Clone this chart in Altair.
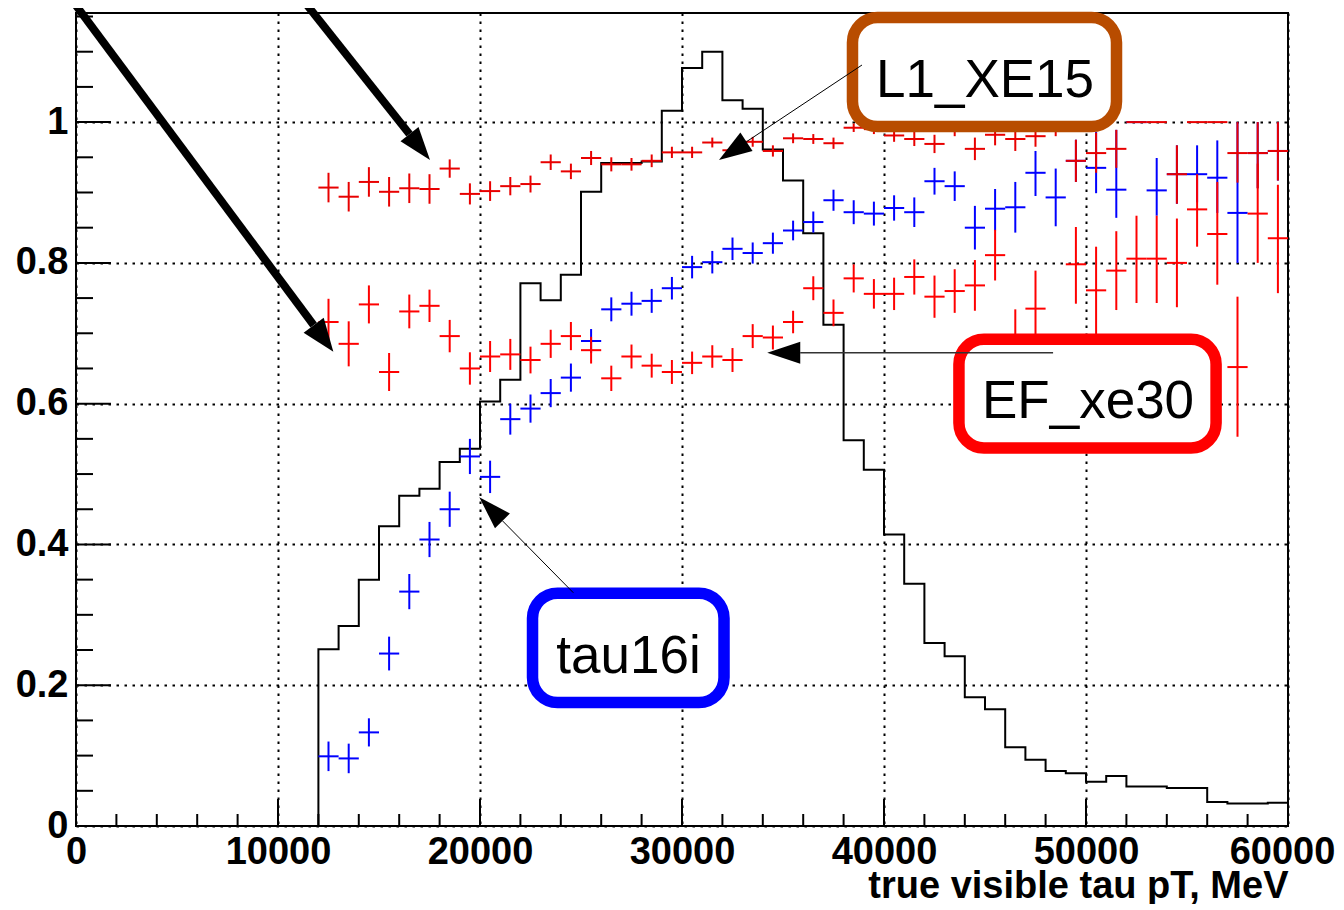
import math
import altair as alt
import pandas as pd

# ---------------- geometry of the plot area ----------------
W, H = 1212, 813
X_MAX, Y_MAX = 60000, 1.155

# ---------------- data ----------------
bin_width = 1000
hist_first_edge = 12000
hist_values = [0.251, 0.284, 0.350, 0.426, 0.469, 0.479, 0.517, 0.536, 0.603, 0.634,
               0.771, 0.747, 0.783, 0.901, 0.942, 0.942, 0.944, 1.016, 1.077, 1.100,
               1.031, 1.019, 0.961, 0.917, 0.842, 0.712, 0.548, 0.506, 0.414, 0.344,
               0.260, 0.241, 0.183, 0.166, 0.112, 0.094, 0.078, 0.075, 0.063, 0.071,
               0.056, 0.056, 0.054, 0.054, 0.034, 0.032, 0.032, 0.033]

bin_centers = [hist_first_edge + bin_width // 2 + bin_width * i for i in range(48)]

tau16i = [0.099, 0.096, 0.133, 0.245, 0.333, 0.407, 0.450, 0.525, 0.496, 0.578,
          0.593, 0.615, 0.637, 0.689, 0.734, 0.742, 0.746, 0.764, 0.794, 0.801,
          0.820, 0.814, 0.828, 0.846, 0.858, 0.889, 0.872, 0.870, 0.878, 0.872,
          0.916, 0.909, 0.850, 0.877, 0.879, 0.928, 0.893, 0.945, 0.935, 0.904,
          1.000, 0.903, 0.926, 0.926, 0.921, 0.871, 0.956, 0.959]
tau16i_err_hi = [0.021, 0.021, 0.020, 0.024, 0.025, 0.025, 0.025, 0.025, 0.023, 0.022,
                 0.020, 0.020, 0.020, 0.017, 0.017, 0.017, 0.017, 0.016, 0.016, 0.016,
                 0.016, 0.015, 0.015, 0.014, 0.015, 0.015, 0.017, 0.017, 0.018, 0.021,
                 0.019, 0.021, 0.031, 0.028, 0.036, 0.031, 0.041, 0.030, 0.051, 0.085,
                 0.000, 0.046, 0.041, 0.041, 0.053, 0.129, 0.044, 0.041]
tau16i_err_lo = [0.021, 0.021, 0.020, 0.024, 0.025, 0.025, 0.025, 0.025, 0.023, 0.022,
                 0.020, 0.020, 0.020, 0.017, 0.017, 0.017, 0.017, 0.016, 0.016, 0.016,
                 0.016, 0.015, 0.015, 0.014, 0.015, 0.015, 0.017, 0.017, 0.018, 0.021,
                 0.019, 0.021, 0.031, 0.031, 0.036, 0.033, 0.041, 0.030, 0.036, 0.040,
                 0.000, 0.036, 0.042, 0.040, 0.050, 0.071, 0.050, 0.042]

l1_xe15 = [0.907, 0.894, 0.915, 0.901, 0.906, 0.905, 0.934, 0.898, 0.902, 0.909,
           0.912, 0.943, 0.930, 0.949, 0.940, 0.940, 0.945, 0.957, 0.957, 0.971,
           0.960, 0.972, 0.959, 0.977, 0.976, 0.970, 0.992, 0.990, 0.981, 0.976,
           0.969, 0.990, 0.962, 0.982, 0.976, 0.980, 0.990, 0.945, 0.956, 0.962,
           1.000, 1.000, 0.926, 1.000, 1.000, 0.956, 0.956, 0.959]
l1_err_hi = [0.021, 0.021, 0.021, 0.021, 0.021, 0.021, 0.013, 0.015, 0.014, 0.013,
             0.012, 0.011, 0.011, 0.010, 0.010, 0.009, 0.009, 0.008, 0.008, 0.007,
             0.008, 0.007, 0.008, 0.007, 0.007, 0.008, 0.006, 0.007, 0.009, 0.010,
             0.013, 0.010, 0.016, 0.015, 0.017, 0.015, 0.010, 0.030, 0.029, 0.027,
             0.000, 0.000, 0.041, 0.000, 0.000, 0.044, 0.044, 0.041]
l1_err_lo = [0.021, 0.021, 0.021, 0.021, 0.021, 0.021, 0.013, 0.015, 0.014, 0.013,
             0.012, 0.011, 0.011, 0.010, 0.010, 0.009, 0.009, 0.008, 0.008, 0.007,
             0.008, 0.007, 0.008, 0.007, 0.007, 0.008, 0.006, 0.007, 0.009, 0.010,
             0.013, 0.010, 0.016, 0.015, 0.017, 0.015, 0.010, 0.030, 0.028, 0.027,
             0.000, 0.000, 0.042, 0.000, 0.000, 0.042, 0.050, 0.042]

ef_xe30 = [0.716, 0.685, 0.741, 0.645, 0.731, 0.739, 0.696, 0.650, 0.667, 0.670,
           0.662, 0.685, 0.696, 0.676, 0.636, 0.667, 0.654, 0.645, 0.658, 0.667,
           0.662, 0.696, 0.694, 0.716, 0.764, 0.729, 0.778, 0.756, 0.756, 0.780,
           0.752, 0.760, 0.768, 0.811, 0.680, 0.735, 0.620, 0.798, 0.761, 0.789,
           0.806, 0.806, 0.800, 0.876, 0.841, 0.652, 0.870, 0.835]
ef_err_hi = [0.033, 0.032, 0.027, 0.027, 0.024, 0.023, 0.023, 0.023, 0.022, 0.022,
             0.019, 0.020, 0.020, 0.019, 0.018, 0.017, 0.017, 0.017, 0.016, 0.016,
             0.017, 0.017, 0.017, 0.016, 0.017, 0.019, 0.020, 0.021, 0.023, 0.025,
             0.030, 0.031, 0.036, 0.036, 0.054, 0.054, 0.060, 0.053, 0.062, 0.056,
             0.061, 0.061, 0.063, 0.050, 0.074, 0.100, 0.071, 0.076]
ef_err_lo = [0.033, 0.032, 0.027, 0.027, 0.024, 0.023, 0.023, 0.023, 0.022, 0.022,
             0.019, 0.020, 0.020, 0.019, 0.018, 0.017, 0.017, 0.017, 0.016, 0.016,
             0.017, 0.017, 0.017, 0.016, 0.017, 0.019, 0.020, 0.021, 0.023, 0.025,
             0.030, 0.031, 0.036, 0.036, 0.060, 0.060, 0.060, 0.056, 0.066, 0.056,
             0.063, 0.063, 0.063, 0.053, 0.072, 0.099, 0.070, 0.078]

# axis ticks / labels
x_major_ticks = list(range(0, 60001, 10000))
x_minor_ticks = [v for v in range(0, 60001, 2000) if v % 10000]
y_major_ticks = [0, 0.2, 0.4, 0.6, 0.8, 1.0]
y_minor_ticks = [round(0.05 * i, 2) for i in range(24) if i % 4]
x_title = "true visible tau pT, MeV"

# annotation boxes (data units)
box_labels = ["L1_XE15", "EF_xe30", "tau16i"]
box_colors = ["#b84c00", "#ff0000", "#0000ff"]
box_x1 = [38440, 43710, 22600]
box_x2 = [51510, 56440, 32080]
box_y1 = [1.1486, 0.6914, 0.3307]
box_y2 = [0.9937, 0.5370, 0.1754]
box_text_x = [45000, 50100, 27350]
box_text_y = [1.035, 0.579, 0.218]

# arrows (data units): tail -> tip
arrow_tail_x = [-200, 11240, 38910, 48370, 24620]
arrow_tail_y = [1.1735, 1.1735, 1.0811, 0.6724, 0.3314]
arrow_tip_x = [12740, 17525, 31830, 34220, 19965]
arrow_tip_y = [0.6738, 0.9462, 0.9462, 0.6724, 0.4670]
arrow_line_width = [8, 8, 1, 1.4, 1]
arrow_line_color = ["black", "black", "black", "#333333", "black"]
arrow_head_len = [33, 33, 33, 33, 33]
arrow_head_half = [12.5, 11.5, 11, 11, 10.5]

# ---------------- build tables ----------------
hist_df = pd.DataFrame({
    "x": [0] + [hist_first_edge + bin_width * i for i in range(len(hist_values))] + [X_MAX],
    "y": [0] + hist_values + [hist_values[-1]],
})


def points_df(vals, hi, lo):
    return pd.DataFrame({
        "x": bin_centers,
        "xl": [c - bin_width / 2 for c in bin_centers],
        "xr": [c + bin_width / 2 for c in bin_centers],
        "y": vals,
        "yh": [v + h for v, h in zip(vals, hi)],
        "yl": [v - l for v, l in zip(vals, lo)],
    })


sx = W / X_MAX
sy = H / Y_MAX
arrows = []
for i in range(len(arrow_tip_x)):
    dx = (arrow_tip_x[i] - arrow_tail_x[i]) * sx
    dy = -(arrow_tip_y[i] - arrow_tail_y[i]) * sy
    n = math.hypot(dx, dy)
    ux, uy = dx / n, dy / n
    L = arrow_head_len[i]
    half = arrow_head_half[i] / (L / 2)
    arrows.append({
        "tx": arrow_tail_x[i], "ty": arrow_tail_y[i],
        "bx": arrow_tip_x[i] - L * ux / sx, "by": arrow_tip_y[i] + L * uy / sy,
        "px": arrow_tip_x[i], "py": arrow_tip_y[i],
        "angle": math.degrees(math.atan2(ux, -uy)) % 360,
        "size": L * L,
        "shape": f"M0,0L{half:.3f},2L-{half:.3f},2Z",
        "lw": arrow_line_width[i],
        "lc": arrow_line_color[i],
    })
arrow_df = pd.DataFrame(arrows)

box_df = pd.DataFrame({
    "label": box_labels, "color": box_colors,
    "x1": box_x1, "x2": box_x2, "y1": box_y1, "y2": box_y2,
    "tx": box_text_x, "ty": box_text_y,
})

# ---------------- scales & axes ----------------
xs = alt.Scale(domain=[0, X_MAX], nice=False, zero=False)
ys = alt.Scale(domain=[0, Y_MAX], nice=False, zero=False)
FONT = "Liberation Sans"

x_axis = alt.Axis(values=x_major_ticks, format="d", grid=True, gridColor="black",
                  gridDash=[2.5, 5.5], gridWidth=2, gridOpacity=1, domain=False,
                  ticks=False, tickSize=0, labelFont=FONT, labelFontWeight="bold",
                  labelFontSize=38, labelColor="black", labelPadding=7,
                  labelFlush=False, labelOverlap=False,
                  labelOffset={"condition": {"test": f"datum.value >= {X_MAX}", "value": -6},
                               "value": 0},
                  title=x_title, titleFont=FONT, titleFontSize=38,
                  titleFontWeight="bold", titleColor="black", titleAnchor="end",
                  titleAlign="right", titleBaseline="alphabetic", titleX=W, titleY=71)
y_axis = alt.Axis(values=y_major_ticks, format="~g", grid=True, gridColor="black",
                  gridDash=[2.5, 5.5], gridWidth=2, gridOpacity=1, domain=False,
                  ticks=False, tickSize=0, labelFont=FONT, labelFontWeight="bold",
                  labelFontSize=38, labelColor="black", labelPadding=8,
                  labelFlush=False, labelOverlap=False, title=None)


def X(field):
    return alt.X(field, scale=xs, axis=x_axis)


def Y(field):
    return alt.Y(field, scale=ys, axis=y_axis)


hist = alt.Chart(hist_df).mark_line(interpolate="step-after", color="black",
                                    strokeWidth=2).encode(x=X("x:Q"), y=Y("y:Q"))


def series_layers(df, color):
    base = alt.Chart(df)
    hbar = base.mark_rule(color=color, strokeWidth=2).encode(
        x=X("xl:Q"), x2="xr:Q", y=Y("y:Q"))
    vbar = base.mark_rule(color=color, strokeWidth=2).encode(
        x=X("x:Q"), y=Y("yl:Q"), y2="yh:Q")
    return [hbar, vbar]


blue_layers = series_layers(points_df(tau16i, tau16i_err_hi, tau16i_err_lo), "#0000ff")
ef_layers = series_layers(points_df(ef_xe30, ef_err_hi, ef_err_lo), "#ff0000")
l1_layers = series_layers(points_df(l1_xe15, l1_err_hi, l1_err_lo), "#e80000")


# tick marks drawn inside the frame
def xticks(vals, length):
    return alt.Chart(pd.DataFrame({"v": vals})).mark_rule(color="black", strokeWidth=2).encode(
        x=X("v:Q"), y=alt.value(H), y2=alt.value(H - length))


def yticks(vals, length):
    return alt.Chart(pd.DataFrame({"v": vals})).mark_rule(color="black", strokeWidth=2).encode(
        y=Y("v:Q"), x=alt.value(0), x2=alt.value(length))


tick_layers = [xticks(x_major_ticks, 27), xticks(x_minor_ticks, 12),
               yticks(y_major_ticks, 35), yticks(y_minor_ticks, 17)]

boxes = alt.Chart(box_df).mark_rect(fill="white", strokeWidth=11.5, cornerRadius=25).encode(
    x=X("x1:Q"), x2="x2:Q", y=Y("y1:Q"), y2="y2:Q",
    stroke=alt.Stroke("color:N", scale=None),
)
box_text = alt.Chart(box_df).mark_text(font=FONT, fontSize=53, align="center",
                                       baseline="alphabetic", color="black").encode(
    x=X("tx:Q"), y=Y("ty:Q"), text="label:N",
)

arrow_lines = alt.Chart(arrow_df).mark_rule(strokeCap="butt").encode(
    x=X("tx:Q"), x2="bx:Q", y=Y("ty:Q"), y2="by:Q",
    strokeWidth=alt.StrokeWidth("lw:Q", scale=None),
    color=alt.Color("lc:N", scale=None),
)
arrow_heads = alt.Chart(arrow_df).mark_point(filled=True, color="black", opacity=1,
                                             strokeWidth=0).encode(
    x=X("px:Q"), y=Y("py:Q"),
    shape=alt.Shape("shape:N", scale=None),
    size=alt.Size("size:Q", scale=None),
    angle=alt.Angle("angle:Q", scale=None),
)

chart = alt.layer(
    hist, *tick_layers, *blue_layers, *ef_layers, *l1_layers,
    boxes, box_text, arrow_lines, arrow_heads,
).properties(
    width=W, height=H,
    autosize=alt.AutoSizeParams(type="none"),
    padding={"left": 68, "top": 5, "right": 48, "bottom": 78},
).configure_view(
    stroke="black", strokeWidth=2
)

chart.save("out.html", embed_options={"renderer": "svg", "actions": False})
